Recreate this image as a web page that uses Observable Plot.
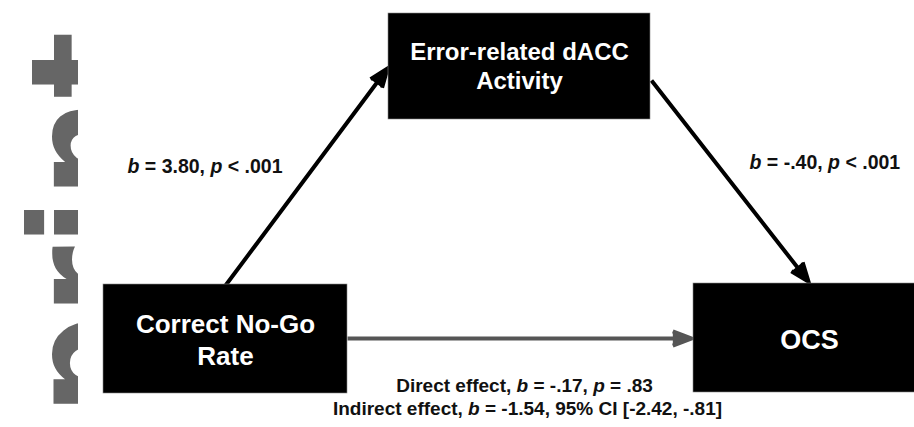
<!DOCTYPE html>
<html><head><meta charset="utf-8">
<script src="https://cdn.jsdelivr.net/npm/d3@7"></script>
<script src="https://cdn.jsdelivr.net/npm/@observablehq/plot@0.6"></script>
<style>html,body{margin:0;padding:0;background:#fff;overflow:hidden}#chart svg{display:block}</style>
</head><body><div id="chart"></div>
<script>
// Watermark
const watermarkText = ["print"];
const watermarkX = [130];
const watermarkY = [415];
const maskX = [78, 160];

// Nodes (boxes) of the mediation model
const nodeNames = ["Correct No-Go\nRate", "Error-related dACC\nActivity", "OCS"];
const nodeX1 = [103, 388, 693];
const nodeX2 = [347, 650, 925];
const nodeY1 = [284, 13, 283];
const nodeY2 = [393, 119, 392];
const nodeTextX = [225, 519, 809];
const nodeTextY = [364, 88, 348];
const nodeFontSize = [26, 24, 27];
const nodeLineHeight = [1.23, 1.17, 1];

// Paths (arrows)
const pathNames = ["a", "b", "c'"];
const pathX1 = [225, 651, 347];
const pathY1 = [285, 80, 338];
const pathX2 = [387, 808, 691];
const pathY2 = [68, 281, 338];
const pathColor = ["#000000", "#000000", "#555555"];

// Coefficient labels
const labelTexts = [
  "*b* = 3.80, *p* < .001",
  "*b* = -.40, *p* < .001",
  "Direct effect, *b* = -.17, *p* = .83",
  "Indirect effect, *b* = -1.54, 95% CI [-2.42, -.81]"
];
const labelX = [127, 749, 524, 527];
const labelY = [172, 168, 391, 414];
const labelSize = [19.5, 19.5, 19, 19];
const labelAnchor = ["start", "start", "middle", "middle"];

const nodes = nodeNames.map((name, i) => ({name, x1: nodeX1[i], x2: nodeX2[i], y1: nodeY1[i], y2: nodeY2[i], tx: nodeTextX[i], ty: nodeTextY[i], fs: nodeFontSize[i], lh: nodeLineHeight[i]}));
const paths = pathNames.map((name, i) => ({name, x1: pathX1[i], y1: pathY1[i], x2: pathX2[i], y2: pathY2[i], color: pathColor[i]}));
const labels = labelTexts.map((text, i) => ({text, x: labelX[i], y: labelY[i], fs: labelSize[i], anchor: labelAnchor[i]}));

function italicize(index, scales, values, dims, context, next) {
  const g = next(index, scales, values, dims, context);
  g.querySelectorAll("text").forEach(t => {
    const s = t.textContent;
    if (!s.includes("*")) return;
    t.textContent = "";
    s.split(/(\*[^*]+\*)/).filter(Boolean).forEach(part => {
      const ts = document.createElementNS("http://www.w3.org/2000/svg", "tspan");
      if (part.startsWith("*")) { ts.setAttribute("font-style", "italic"); ts.textContent = part.slice(1, -1); }
      else ts.textContent = part;
      t.appendChild(ts);
    });
  });
  return g;
}

const font = "'Liberation Sans', Arial, Helvetica, sans-serif";

const marks = [
  Plot.text(watermarkText, {x: () => watermarkX[0], y: () => watermarkY[0], text: d => d, rotate: -90, textAnchor: "start", lineAnchor: "bottom", fontSize: 140, fontWeight: "bold", fontFamily: "'DejaVu Sans', sans-serif", fill: "#666666"}),
  Plot.rect([0], {x1: () => maskX[0], x2: () => maskX[1], y1: 0, y2: 427, fill: "white"}),
  Plot.arrow(paths.filter((d, i) => i === 2), {x1: "x1", y1: "y1", x2: "x2", y2: "y2", stroke: d => d.color, fill: d => d.color, strokeWidth: 4, headLength: 7.5, headAngle: 42, strokeLinecap: "butt", strokeLinejoin: "miter", strokeMiterlimit: 10}),
  Plot.arrow(paths.filter((d, i) => i < 2), {x1: "x1", y1: "y1", x2: "x2", y2: "y2", stroke: d => d.color, fill: d => d.color, strokeWidth: 4, headLength: 7.5, headAngle: 42, strokeLinecap: "butt", strokeLinejoin: "miter", strokeMiterlimit: 10}),
  Plot.rect(nodes, {x1: "x1", x2: "x2", y1: "y1", y2: "y2", fill: "#000", stroke: "#888", strokeWidth: 0.6}),
  ...nodes.map(n => Plot.text([n], {x: "tx", y: "ty", text: "name", fill: "white", fontSize: n.fs, lineHeight: n.lh, fontWeight: "bold", fontFamily: font, textAnchor: "middle", lineAnchor: "bottom"})),
  ...labels.map(l => Plot.text([l], {x: "x", y: "y", text: "text", fill: "#111", fontSize: l.fs, fontWeight: "bold", fontFamily: font, textAnchor: l.anchor, lineAnchor: "bottom", render: italicize}))
];

const chart = Plot.plot({
  width: 914, height: 427,
  margin: 0,
  x: {domain: [0, 914], range: [0, 914], axis: null},
  y: {domain: [0, 427], range: [0, 427], axis: null},
  style: {background: "white", overflow: "hidden"},
  marks
});
document.getElementById("chart").appendChild(chart);
</script>
</body></html>
